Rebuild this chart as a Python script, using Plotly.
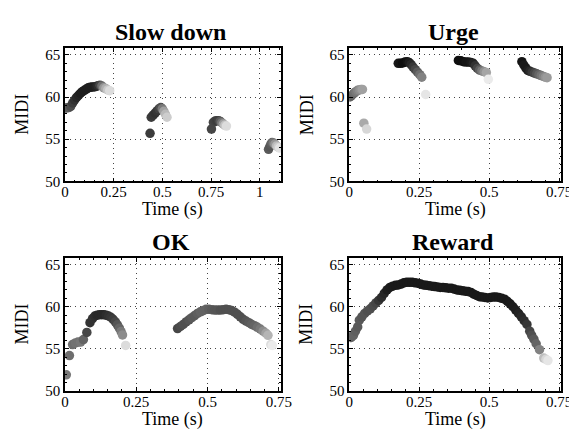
import plotly.graph_objects as go
from plotly.subplots import make_subplots

# ---------------- data ----------------
titles = ["Slow down", "Urge", "OK", "Reward"]
x_label = "Time (s)"
y_label = "MIDI"

slow_t = [0.000, 0.010, 0.020, 0.030, 0.040, 0.050, 0.060, 0.070, 0.080, 0.090, 0.100, 0.110,
          0.120, 0.130, 0.140, 0.150, 0.160, 0.170, 0.180, 0.190, 0.200, 0.210, 0.220, 0.230,
          0.437,
          0.443, 0.453, 0.463, 0.473, 0.483, 0.492, 0.500, 0.508, 0.516, 0.524,
          0.752,
          0.762, 0.771, 0.780, 0.789, 0.797, 0.805, 0.813, 0.821, 0.829,
          1.045, 1.051, 1.057, 1.063, 1.070, 1.078, 1.086, 1.094, 1.102]
slow_midi = [58.7, 58.7, 58.75, 58.9, 59.3, 59.65, 59.95, 60.2, 60.45, 60.65, 60.8, 60.95,
             61.1, 61.15, 61.2, 61.2, 61.25, 61.35, 61.4, 61.3, 61.1, 61.0, 60.85, 60.75,
             55.7,
             57.6, 57.85, 58.1, 58.35, 58.6, 58.75, 58.6, 58.3, 57.95, 57.6,
             56.2,
             57.0, 57.15, 57.2, 57.2, 57.1, 56.95, 56.8, 56.65, 56.55,
             53.8, 54.1, 54.4, 54.6, 54.55, 54.4, 54.2, 54.05, 53.95]
slow_shade = [100, 95, 90, 75, 60, 50, 40, 35, 30, 30, 30, 30,
              30, 30, 30, 30, 35, 45, 70, 110, 150, 175, 200, 220,
              60,
              60, 55, 50, 55, 65, 80, 120, 160, 185, 205,
              70,
              70, 65, 60, 65, 90, 120, 160, 195, 220,
              90, 85, 90, 100, 120, 150, 185, 205, 225]

urge_t = [0.000, 0.006, 0.012, 0.018, 0.024, 0.030, 0.036, 0.042, 0.047,
          0.052, 0.062,
          0.175, 0.183, 0.191, 0.199, 0.207, 0.214, 0.221, 0.228, 0.236, 0.244, 0.252, 0.259,
          0.273,
          0.390, 0.399, 0.408, 0.417, 0.426, 0.435, 0.443, 0.450, 0.458, 0.466, 0.474, 0.482, 0.490,
          0.497,
          0.617, 0.624, 0.631, 0.638, 0.646, 0.654, 0.662, 0.670, 0.678, 0.686, 0.694, 0.701, 0.707]
urge_midi = [60.0, 60.1, 60.3, 60.5, 60.65, 60.8, 60.85, 60.9, 60.9,
             56.9, 56.2,
             64.0, 64.0, 64.05, 64.15, 64.2, 64.1, 63.85, 63.55, 63.25, 62.95, 62.65, 62.35,
             60.3,
             64.35, 64.3, 64.2, 64.15, 64.15, 64.1, 64.0, 63.7, 63.4, 63.2, 63.1, 63.0, 62.9,
             62.1,
             64.2, 63.8, 63.45, 63.15, 63.05, 62.95, 62.85, 62.75, 62.65, 62.55, 62.45, 62.35, 62.3]
urge_shade = [95, 95, 100, 110, 120, 130, 140, 150, 160,
              170, 215,
              25, 20, 15, 15, 20, 30, 40, 55, 70, 90, 110, 130,
              230,
              15, 15, 15, 20, 20, 25, 35, 50, 70, 95, 120, 145, 165,
              235,
              20, 25, 25, 30, 40, 55, 70, 85, 100, 115, 130, 145, 155]

ok_t = [0.005, 0.016, 0.027, 0.037, 0.046, 0.055, 0.065, 0.077, 0.088, 0.097, 0.105, 0.113,
        0.121, 0.129, 0.137, 0.145, 0.153, 0.161, 0.169, 0.177, 0.184, 0.191, 0.197, 0.202,
        0.213,
        0.395, 0.405, 0.415, 0.425, 0.435, 0.445, 0.455, 0.465, 0.475, 0.485, 0.495, 0.505,
        0.515, 0.525, 0.535, 0.545, 0.555, 0.565, 0.575, 0.585, 0.595, 0.605, 0.615, 0.625,
        0.635, 0.645, 0.655, 0.665, 0.675, 0.685, 0.695, 0.705, 0.712,
        0.722, 0.727]
ok_midi = [51.9, 54.2, 55.5, 55.7, 55.8, 55.8, 56.1, 56.95, 58.1, 58.6, 58.9, 59.0,
           59.05, 59.05, 59.05, 59.0, 58.9, 58.75, 58.5, 58.2, 57.85, 57.45, 57.05, 56.65,
           55.4,
           57.4, 57.65, 57.9, 58.2, 58.45, 58.7, 58.95, 59.2, 59.4, 59.55, 59.7, 59.7,
           59.65, 59.6, 59.6, 59.6, 59.65, 59.7, 59.65, 59.55, 59.35, 59.1, 58.8, 58.5,
           58.3, 58.1, 57.9, 57.75, 57.55, 57.35, 57.1, 56.85, 56.6,
           55.5, 55.4]
ok_shade = [120, 110, 110, 115, 115, 120, 100, 70, 50, 50, 45, 40,
            40, 40, 40, 45, 50, 55, 60, 70, 85, 100, 120, 140,
            220,
            70, 75, 80, 80, 85, 90, 90, 95, 100, 100, 100, 95,
            90, 85, 85, 80, 80, 80, 80, 80, 80, 80, 80, 80,
            85, 90, 95, 100, 110, 120, 140, 160, 180,
            220, 235]

reward_t = [0.000, 0.007, 0.015, 0.022, 0.030, 0.036,
            0.045, 0.055, 0.065, 0.075, 0.085, 0.095, 0.105, 0.115, 0.125, 0.135, 0.145, 0.155,
            0.165, 0.175, 0.185, 0.195, 0.205, 0.215, 0.225, 0.235, 0.245, 0.255, 0.265, 0.275,
            0.285, 0.295, 0.305, 0.315, 0.325, 0.335, 0.345, 0.355, 0.365, 0.375, 0.385, 0.395,
            0.405, 0.415, 0.425, 0.435, 0.445, 0.455, 0.465, 0.475, 0.485, 0.495, 0.505, 0.515,
            0.525, 0.535, 0.545, 0.555, 0.565, 0.575, 0.585, 0.595, 0.605, 0.615, 0.625, 0.635,
            0.645,
            0.652, 0.660, 0.668, 0.680, 0.695, 0.703, 0.710]
reward_midi = [56.5, 56.35, 56.6, 57.1, 57.6, 58.4,
               58.8, 59.2, 59.5, 59.75, 60.1, 60.45, 60.75, 61.1, 61.6, 62.0, 62.3, 62.45,
               62.55, 62.6, 62.7, 62.85, 62.9, 62.9, 62.9, 62.85, 62.8, 62.7, 62.6, 62.55,
               62.5, 62.45, 62.4, 62.35, 62.3, 62.3, 62.25, 62.2, 62.2, 62.1, 62.0, 61.95,
               61.9, 61.85, 61.8, 61.7, 61.5, 61.35, 61.2, 61.15, 61.1, 61.05, 61.1, 61.15,
               61.15, 61.1, 61.0, 60.9, 60.65, 60.35, 60.0, 59.6, 59.2, 58.8, 58.35, 57.9,
               57.1,
               56.6, 56.15, 55.6, 54.9, 53.9, 53.75, 53.6]
reward_shade = [100, 100, 100, 95, 90, 90,
                85, 85, 80, 80, 75, 70, 55, 45, 40, 30, 28, 26,
                25, 25, 25, 25, 25, 25, 25, 25, 25, 25, 25, 25,
                25, 25, 25, 25, 25, 25, 25, 25, 25, 25, 25, 25,
                25, 25, 25, 25, 25, 25, 25, 25, 25, 25, 25, 25,
                25, 25, 25, 25, 25, 26, 28, 30, 35, 40, 45, 55,
                70,
                80, 90, 100, 130, 190, 215, 230]

x_ticks_slow = [0, 0.25, 0.5, 0.75, 1]
x_ticks_other = [0, 0.25, 0.5, 0.75]
y_ticks = [50, 55, 60, 65]

series = [
    (slow_t, slow_midi, slow_shade, x_ticks_slow, 1.108),
    (urge_t, urge_midi, urge_shade, x_ticks_other, 0.758),
    (ok_t, ok_midi, ok_shade, x_ticks_other, 0.757),
    (reward_t, reward_midi, reward_shade, x_ticks_other, 0.758),
]

# ---------------- layout geometry (pixels) ----------------
W, H = 577, 430
boxes = [  # (left, right, top, bottom) in px
    (54.3, 276.0, 40.0, 176.0),
    (346.3, 564.0, 40.0, 176.0),
    (54.3, 276.0, 254.3, 390.0),
    (346.3, 564.0, 254.3, 390.0),
]
FONT = "Liberation Serif"

fig = make_subplots(rows=2, cols=2)
gray_scale = [[0, "rgb(0,0,0)"], [1, "rgb(255,255,255)"]]

annotations = []
for i, ((t, m, s, xt, xmax), (l, r, tp, bt)) in enumerate(zip(series, boxes)):
    row, col = i // 2 + 1, i % 2 + 1
    fig.add_trace(go.Scatter(
        x=t, y=m, mode="markers",
        marker=dict(size=9.5, color=s, colorscale=gray_scale, cmin=0, cmax=255,
                    showscale=False, line=dict(width=0)),
        showlegend=False, hoverinfo="skip"), row=row, col=col)
    ax = "" if i == 0 else str(i + 1)
    fig.layout["xaxis" + ax].update(
        domain=[l / W, r / W], range=[0, xmax],
        tickvals=xt, ticktext=[("%g" % v) for v in xt],
        ticks="inside", ticklen=4, tickcolor="black", mirror="allticks",
        showline=True, linecolor="black", linewidth=1.5,
        showgrid=True, gridcolor="#444", griddash="1px,4px", gridwidth=1,
        zeroline=False, tickfont=dict(family=FONT, size=15, color="black"),
        ticklabelstandoff=-4,
        minor=dict(ticks="inside", ticklen=2, dtick=0.05, tickcolor="black", showgrid=False),
        fixedrange=True)
    fig.layout["yaxis" + ax].update(
        domain=[1 - bt / H, 1 - tp / H], range=[50, 65.8],
        tickvals=y_ticks, ticktext=[str(v) for v in y_ticks],
        ticks="inside", ticklen=4, tickcolor="black", mirror="allticks",
        showline=True, linecolor="black", linewidth=1.5,
        showgrid=True, gridcolor="#444", griddash="1px,4px", gridwidth=1,
        zeroline=False, tickfont=dict(family=FONT, size=15, color="black"),
        minor=dict(ticks="inside", ticklen=2, dtick=1, tickcolor="black", showgrid=False),
        fixedrange=True)
    cx = (l + r) / 2 / W
    # subplot title
    annotations.append(dict(text="<b>%s</b>" % titles[i], x=(l + r) / 2 / W - 2 / W,
                            y=1 - (tp - 16) / H,
                            xref="paper", yref="paper", showarrow=False,
                            xanchor="center", yanchor="middle",
                            font=dict(family=FONT, size=24, color="black")))
    # x-axis title
    annotations.append(dict(text=x_label, x=cx, y=1 - (bt + 29) / H,
                            xref="paper", yref="paper", showarrow=False,
                            xanchor="center", yanchor="middle",
                            font=dict(family=FONT, size=18, color="black")))
    # y-axis title
    annotations.append(dict(text=y_label, x=(l - 44) / W, y=1 - (tp + bt) / 2 / H,
                            xref="paper", yref="paper", showarrow=False, textangle=-90,
                            xanchor="center", yanchor="middle",
                            font=dict(family=FONT, size=18, color="black")))

fig.update_layout(width=W, height=H, margin=dict(l=0, r=0, t=0, b=0),
                  paper_bgcolor="white", plot_bgcolor="white",
                  font=dict(family=FONT),
                  annotations=annotations, showlegend=False)

fig.write_html("out.html")
